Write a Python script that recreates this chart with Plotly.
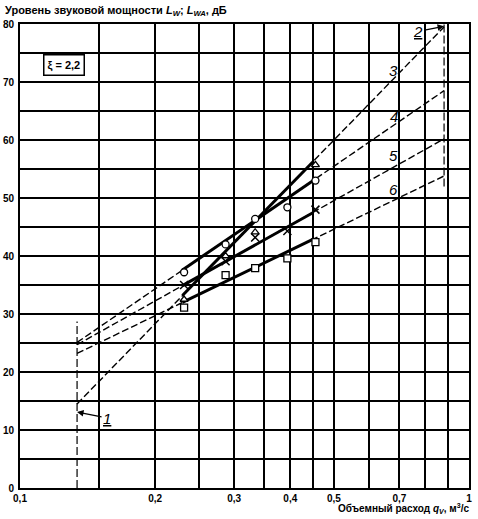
import math
import plotly.graph_objects as go

# Границы диапазона (вертикальные штриховые линии)
x_lim = [0.134, 0.88]
left_limit_y = [0, 28.7]
right_limit_y = [52.0, 80]

# Прямые 3-6 на всём диапазоне
line3_y = [14.5, 79.5]
line4_y = [25.1, 68.5]
line5_y = [24.7, 60.2]
line6_y = [23.2, 53.8]

# Жирные участки в области измерений
x_meas = [0.23, 0.45]
line3_meas = [33.2, 56.3]
line4_meas = [37.6, 53.0]
line5_meas = [34.9, 47.5]
line6_meas = [32.0, 42.9]

# Точки измерений
x_pts = [0.232, 0.287, 0.334, 0.394, 0.455]
circles_y = [37.2, 42.0, 46.4, 48.4, 53.0]
tri_x = [0.232, 0.287, 0.334, 0.455]
tri_y = [32.5, 40.0, 44.1, 55.7]
cross_y = [35.0, 39.1, 43.2, 44.3, 48.0]
squares_y = [31.1, 36.7, 37.9, 39.6, 42.4]

x_grid = [0.1, 0.15, 0.2, 0.25, 0.3, 0.35, 0.4, 0.45, 0.5, 0.6, 0.7, 0.8, 0.9, 1]
x_labels = {0.1: '0,1', 0.2: '0,2', 0.3: '0,3', 0.4: '0,4', 0.5: '0,5', 0.7: '0,7', 1: '1'}
y_grid = list(range(0, 81, 5))

fig = go.Figure()

dash = '7px,3px'
for yy in [line3_y, line4_y, line5_y, line6_y]:
    fig.add_trace(go.Scatter(x=x_lim, y=yy, mode='lines',
                             line=dict(color='black', width=1.4, dash=dash)))
for yy in [line3_meas, line4_meas, line5_meas, line6_meas]:
    fig.add_trace(go.Scatter(x=x_meas, y=yy, mode='lines',
                             line=dict(color='black', width=3)))

fig.add_trace(go.Scatter(x=[x_lim[0], x_lim[0]], y=left_limit_y, mode='lines',
                         line=dict(color='black', width=1.2, dash='8px,3px')))
fig.add_trace(go.Scatter(x=[x_lim[1], x_lim[1]], y=right_limit_y, mode='lines',
                         line=dict(color='black', width=1.2, dash='8px,3px')))

mk = dict(color='white', size=7, line=dict(color='black', width=1.3))
fig.add_trace(go.Scatter(x=x_pts, y=circles_y, mode='markers',
                         marker=dict(symbol='circle', **mk)))
fig.add_trace(go.Scatter(x=tri_x, y=tri_y, mode='markers',
                         marker=dict(symbol='triangle-up', **mk)))
fig.add_trace(go.Scatter(x=x_pts, y=squares_y, mode='markers',
                         marker=dict(symbol='square', **mk)))
fig.add_trace(go.Scatter(x=x_pts, y=cross_y, mode='markers',
                         marker=dict(symbol='x-thin', size=8,
                                     line=dict(color='black', width=1.5))))

font = dict(family='Liberation Sans, Arial, sans-serif', color='black')

fig.update_layout(
    width=478, height=519,
    margin=dict(l=20, r=9, t=24, b=31),
    paper_bgcolor='white', plot_bgcolor='white',
    showlegend=False,
    font=dict(size=10, **font),
    xaxis=dict(
        type='log', range=[-1, 0], automargin=False,
        tickvals=x_grid,
        ticktext=[x_labels.get(v, '') for v in x_grid],
        showgrid=True, gridcolor='black', gridwidth=1.7,
        showline=True, linecolor='black', linewidth=2, mirror=True,
        ticks='', zeroline=False,
        tickfont=dict(size=10, weight='bold', **font),
    ),
    yaxis=dict(
        range=[0, 80], automargin=False,
        tickvals=y_grid,
        ticktext=[str(v) if v % 10 == 0 else '' for v in y_grid],
        showgrid=True, gridcolor='black', gridwidth=1.7,
        showline=True, linecolor='black', linewidth=2, mirror=True,
        ticks='', zeroline=False, ticklabelstandoff=2,
        tickfont=dict(size=10, weight='bold', **font),
    ),
)

# Подписи прямых
for txt, yv in [('3', 71.9), ('4', 64.0), ('5', 57.3), ('6', 51.4)]:
    fig.add_annotation(x=math.log10(0.68), y=yv, text='<i>' + txt + '</i>',
                       showarrow=False, font=dict(size=15, **font))

fig.add_annotation(x=math.log10(x_lim[0]), y=13.1, text='<i><u>1</u></i>',
                   showarrow=True, ax=30, ay=6, arrowhead=2, arrowsize=1,
                   arrowwidth=1.3, arrowcolor='black', font=dict(size=15, **font))
fig.add_annotation(x=math.log10(x_lim[1]), y=79.6, text='<i><u>2</u></i>',
                   showarrow=True, ax=-26, ay=5, arrowhead=2, arrowsize=1,
                   arrowwidth=1.3, arrowcolor='black', font=dict(size=15, **font))

fig.add_annotation(x=math.log10(0.125), y=73, text='ξ = 2,2', showarrow=False,
                   bordercolor='black', borderwidth=1.5, borderpad=3,
                   bgcolor='white', font=dict(size=11, weight='bold', **font))

fig.add_annotation(xref='paper', yref='paper', x=-0.038, y=1.0, yshift=22,
                   xanchor='left', yanchor='top', showarrow=False,
                   text='Уровень звуковой мощности <i>L</i><sub><i>W</i></sub>; '
                        '<i>L</i><sub><i>WA</i></sub>, дБ',
                   font=dict(size=11, weight='bold', **font))
fig.add_annotation(xref='paper', yref='paper', x=1.005, y=0, yshift=-12,
                   xanchor='right', yanchor='top', showarrow=False,
                   text='Объемный расход <i>q</i><sub><i>V</i></sub>, м<sup>3</sup>/с',
                   font=dict(size=10, weight='bold', **font))

fig.write_html("out.html", config={'displayModeBar': False},
               post_script="document.body.style.margin = '0';")
